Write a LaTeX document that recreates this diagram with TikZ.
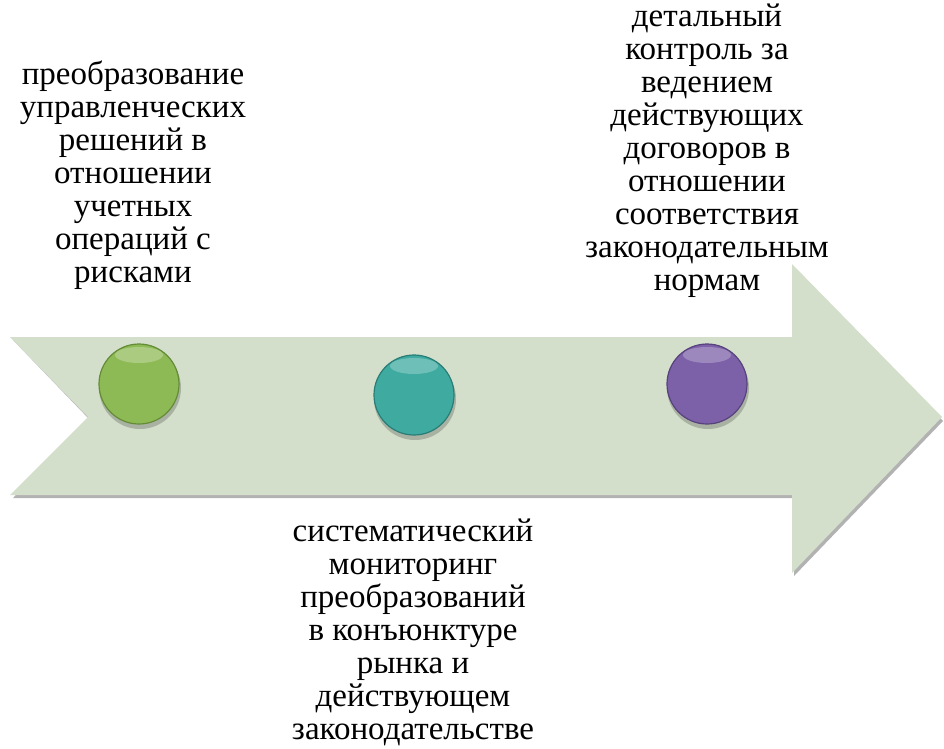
\documentclass[tikz,border=0pt]{standalone}
\usepackage{fontspec}
\newfontfamily\tnr{Liberation Serif}
\begin{document}
\begin{tikzpicture}[x=1pt,y=-1pt,
  lbl/.style={font=\tnr\fontsize{33}{33}\selectfont,inner sep=0pt},
  ball/.style={circle,minimum size=80pt,inner sep=0pt}]
\definecolor{arr}{RGB}{211,223,203}
\definecolor{gA}{RGB}{141,186,85}\definecolor{gAd}{RGB}{100,140,55}
\definecolor{gB}{RGB}{62,170,160}\definecolor{gBd}{RGB}{40,125,118}
\definecolor{gC}{RGB}{124,96,168}\definecolor{gCd}{RGB}{88,66,125}
\useasboundingbox (0,0) rectangle (944,748);
\fill[white] (0,0) rectangle (944,748);
% arrow shadow
\fill[black!30] (13,340) -- (794,340) -- (794,268) -- (943,421) -- (794,576) -- (794,498) -- (13,498) -- (90,420) -- cycle;
% arrow
\fill[arr] (10,337) -- (792,337) -- (792,264) -- (942,417) -- (792,573) -- (792,495) -- (10,495) -- (88,417) -- cycle;
% balls
\foreach \n/\cx/\cy/\c/\d in {b1/139/384/gA/gAd, b2/414/395/gB/gBd, b3/707/384/gC/gCd}{
  \fill[arr!80!black] (\cx+1,\cy+4) circle (41);
  \node[ball,fill=\c,draw=\d,line width=1.2pt] (\n) at (\cx,\cy) {};
  \fill[\c!75!white] (\cx,\cy-29) ellipse (24 and 8);
}
% labels
\node[lbl] (t1) at (133,177) {\tnr\begin{tabular}{@{}c@{}}преобразование\\управленческих\\решений в\\отношении\\учетных\\операций с\\рисками\end{tabular}};
\node[lbl] (t2) at (707,152) {\tnr\begin{tabular}{@{}c@{}}детальный\\контроль за\\ведением\\действующих\\договоров в\\отношении\\соответствия\\законодательным\\нормам\end{tabular}};
\node[lbl] (t3) at (413,634) {\tnr\begin{tabular}{@{}c@{}}систематический\\мониторинг\\преобразований\\в конъюнктуре\\рынка и\\действующем\\законодательстве\end{tabular}};
\end{tikzpicture}
\end{document}
